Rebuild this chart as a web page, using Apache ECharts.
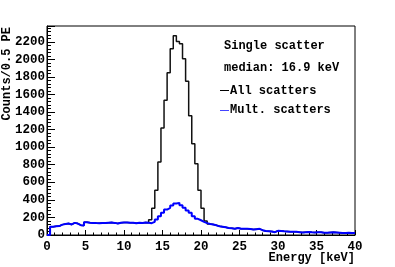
<!DOCTYPE html>
<html>
<head>
<meta charset="utf-8">
<script src="https://cdn.jsdelivr.net/npm/echarts@6/dist/echarts.min.js"></script>
<style>
html,body{margin:0;padding:0;background:#fff;}
#chart{width:395px;height:267px;}
</style>
</head>
<body>
<div id="chart"></div>
<script>
// ---- data ----
var energyMin = 0;
var binWidth = 0.4; // keV per bin
var seriesNames = ['All scatters', 'Mult. scatters'];
var headerLines = ['Single scatter', 'median: 16.9 keV'];
var xTitle = 'Energy [keV]';
var yTitle = 'Counts/0.5 PE';

var multScatters = [
  0, 95, 100, 102, 118, 125, 130, 120, 138, 130,
  112, 108, 145, 140, 138, 136, 135, 138, 137, 140,
  142, 138, 132, 140, 142, 143, 140, 140, 133, 140,
  138, 142, 140, 135, 150, 176, 214, 252, 290, 309,
  335, 358, 366, 340, 309, 278, 252, 214, 184, 168,
  150, 135, 125, 119, 110, 100, 95, 89, 80, 77,
  72, 80, 72, 70, 70, 68, 62, 66, 70, 55,
  45, 43, 40, 32, 48, 45, 42, 40, 38, 38,
  36, 32, 28, 32, 34, 30, 28, 30, 30, 26,
  25, 28, 30, 28, 26, 24, 22, 25, 22, 24
];
var allScatters = [
  0, 95, 100, 102, 118, 125, 130, 120, 138, 130,
  112, 108, 145, 140, 138, 136, 135, 138, 137, 140,
  142, 138, 132, 140, 142, 143, 140, 140, 133, 140,
  138, 142, 140, 175, 305, 511, 831, 1218, 1534, 1847,
  2121, 2268, 2203, 2177, 2008, 1752, 1357, 1038, 812, 511,
  305, 160, 125, 119, 110, 100, 95, 89, 80, 77,
  72, 80, 72, 70, 70, 68, 62, 66, 70, 55,
  45, 43, 40, 32, 48, 45, 42, 40, 38, 38,
  36, 32, 28, 32, 34, 30, 28, 30, 30, 26,
  25, 28, 30, 28, 26, 24, 22, 25, 22, 24
];

// ---- build step points (bin left edges + closing right edge) ----
function toSteps(vals) {
  var pts = [];
  for (var i = 0; i < vals.length; i++) {
    pts.push([+(energyMin + i * binWidth).toFixed(4), vals[i]]);
  }
  pts.push([+(energyMin + vals.length * binWidth).toFixed(4), vals[vals.length - 1]]);
  return pts;
}

var FONT = '"Liberation Mono", "DejaVu Sans Mono", monospace';
var FS = 12.5;
var chart = echarts.init(document.getElementById('chart'), null, {renderer: 'canvas'});
var option = {
  animation: false,
  backgroundColor: '#ffffff',
  grid: {
    left: 47, top: 26, width: 308, height: 209,
    show: true, borderColor: '#000', borderWidth: 1, backgroundColor: 'transparent'
  },
  xAxis: {
    type: 'value', min: 0, max: 40, interval: 5,
    axisLine: {show: true, onZero: false, lineStyle: {color: '#000', width: 1}},
    axisTick: {show: true, inside: true, length: 5, lineStyle: {color: '#000'}},
    minorTick: {show: true, splitNumber: 5, length: 2.5, lineStyle: {color: '#000'}},
    splitLine: {show: false},
    axisLabel: {color: '#000', fontFamily: FONT, fontWeight: 'bold', fontSize: FS, margin: 5,
      formatter: function (v) { return String(v); }}
  },
  yAxis: {
    type: 'value', min: 0, max: 2380, interval: 200,
    axisLine: {show: true, onZero: false, lineStyle: {color: '#000', width: 1}},
    axisTick: {show: true, inside: true, length: 8, lineStyle: {color: '#000'}},
    minorTick: {show: true, splitNumber: 5, length: 4, lineStyle: {color: '#000'}},
    splitLine: {show: false},
    axisLabel: {color: '#000', fontFamily: FONT, fontWeight: 'bold', fontSize: FS, margin: 2, showMaxLabel: false,
      formatter: function (v) { return String(v); }}
  },
  series: [
    {
      name: seriesNames[0], type: 'line', step: 'end', showSymbol: false, symbol: 'none',
      data: toSteps(allScatters), clip: true,
      lineStyle: {color: '#111', width: 1.5}, itemStyle: {color: '#000'}, z: 2
    },
    {
      name: seriesNames[1], type: 'line', step: 'end', showSymbol: false, symbol: 'none',
      data: toSteps(multScatters), clip: true,
      lineStyle: {color: '#0000ff', width: 2}, itemStyle: {color: '#0000ff'}, z: 3
    }
  ],
  graphic: [
    {type: 'text', x: 224, y: 46, style: {text: headerLines[0], fill: '#000', font: 'bold 12px ' + FONT, align: 'left', verticalAlign: 'middle'}},
    {type: 'text', x: 224, y: 68, style: {text: headerLines[1], fill: '#000', font: 'bold 12px ' + FONT, align: 'left', verticalAlign: 'middle'}},
    {type: 'line', shape: {x1: 220, y1: 90.5, x2: 229, y2: 90.5}, style: {stroke: '#000', lineWidth: 1}},
    {type: 'text', x: 230, y: 91, style: {text: seriesNames[0], fill: '#000', font: 'bold 12px ' + FONT, align: 'left', verticalAlign: 'middle'}},
    {type: 'line', shape: {x1: 220, y1: 110.5, x2: 229, y2: 110.5}, style: {stroke: '#4444ff', lineWidth: 1}},
    {type: 'text', x: 230, y: 110, style: {text: seriesNames[1], fill: '#000', font: 'bold 12px ' + FONT, align: 'left', verticalAlign: 'middle'}},
    {type: 'text', x: 355, y: 258, style: {text: xTitle, fill: '#000', font: 'bold 12px ' + FONT, align: 'right', verticalAlign: 'middle'}},
    {type: 'text', x: 7, y: 27, rotation: Math.PI / 2, style: {text: yTitle, fill: '#000', font: 'bold 12px ' + FONT, align: 'right', verticalAlign: 'middle'}}
  ]
};
chart.setOption(option);
</script>
</body>
</html>
